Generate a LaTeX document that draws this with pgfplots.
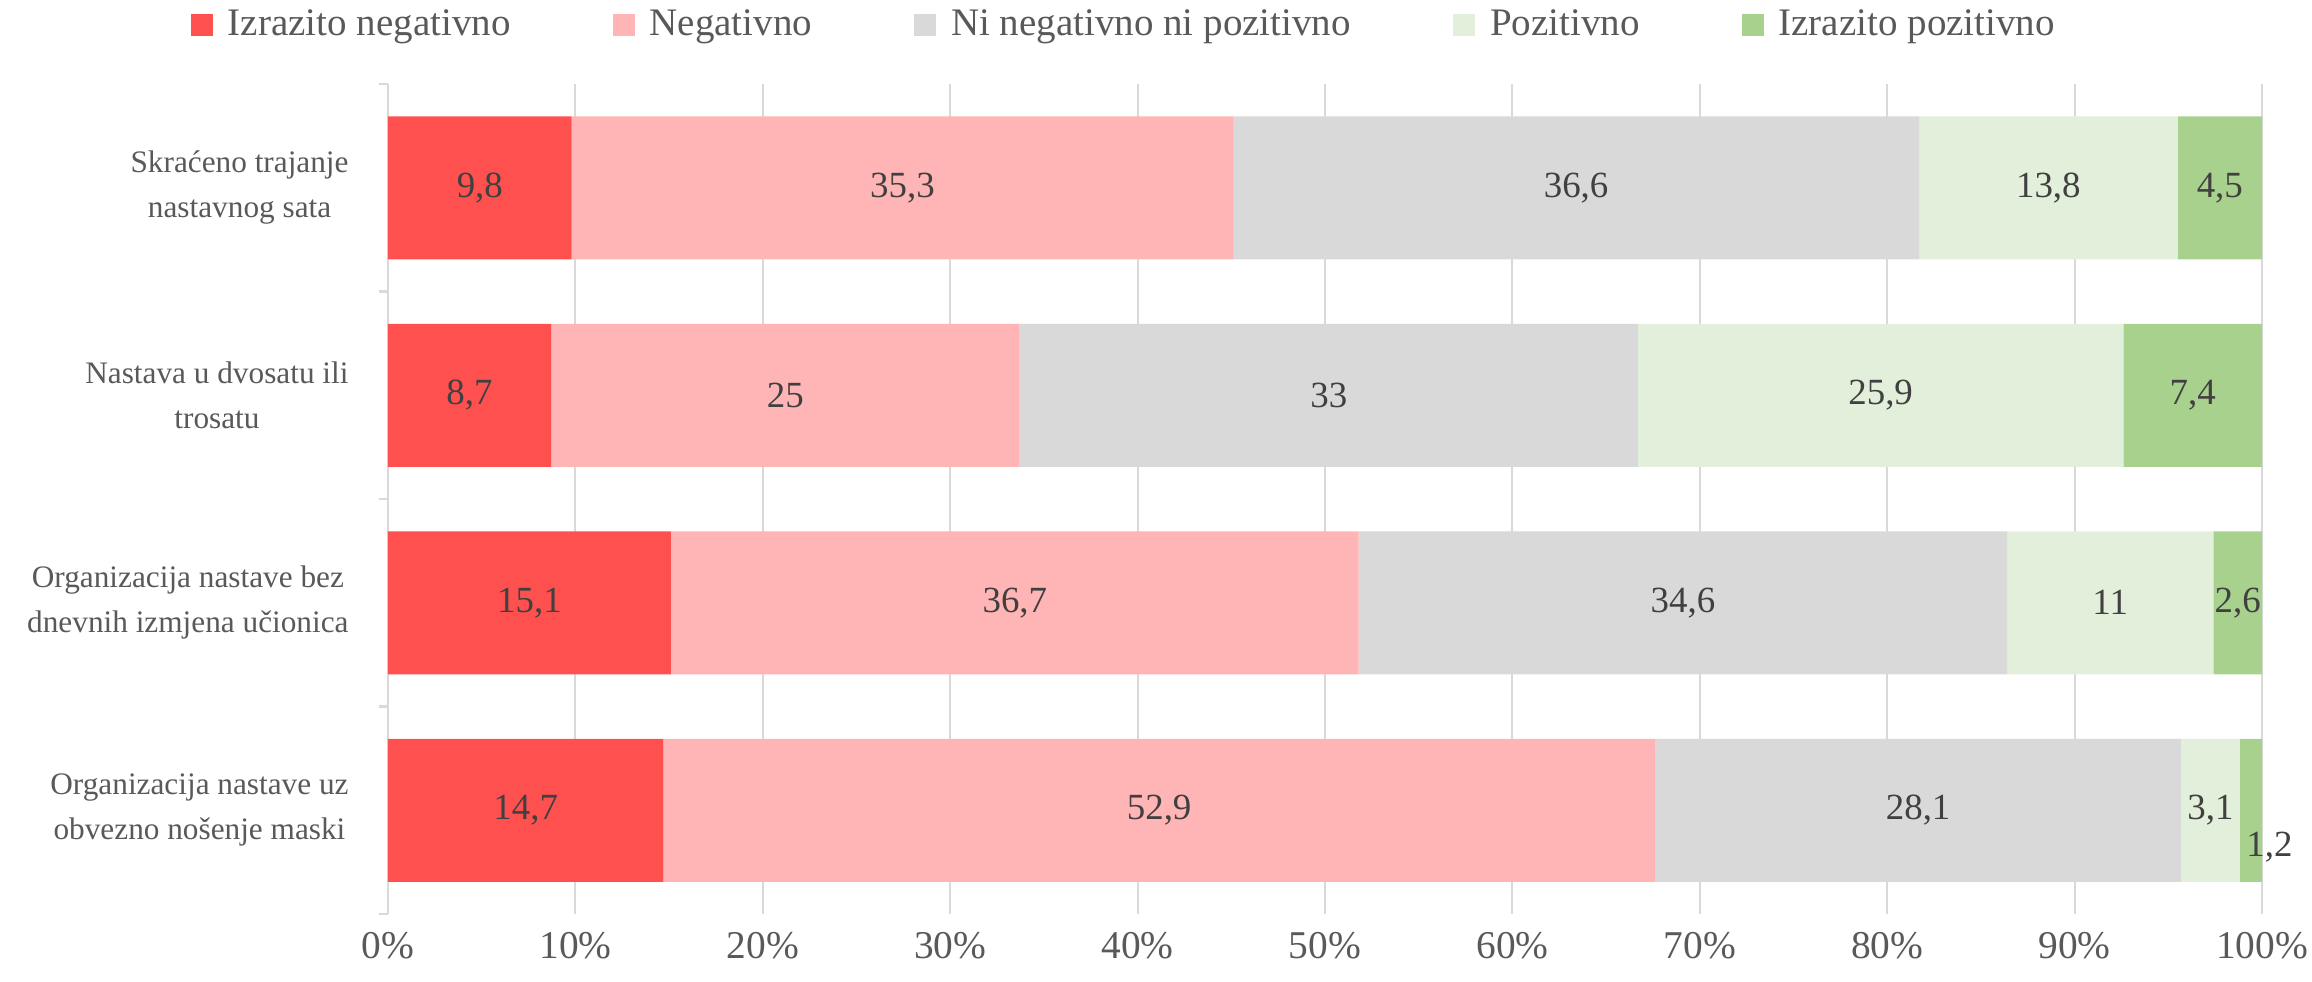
\documentclass[border=0pt]{standalone}
\usepackage{fontspec}
\setmainfont{Liberation Serif}
\usepackage{pgfplots}
\pgfplotsset{compat=1.18}
\definecolor{cNegS}{HTML}{FF5050}
\definecolor{cNeg}{HTML}{FFB5B5}
\definecolor{cMid}{HTML}{D9D9D9}
\definecolor{cPos}{HTML}{E2EFDA}
\definecolor{cPosS}{HTML}{A9D18E}
\definecolor{txt}{HTML}{595959}
\definecolor{lab}{HTML}{404040}

% values per category (0 = top row)
\pgfplotstableread{
y  negs neg  mid  pos  poss
0  9.8  35.3 36.6 13.8 4.5
1  8.7  25   33   25.9 7.4
2  15.1 36.7 34.6 11   2.6
3  14.7 52.9 28.1 3.1  1.2
}\datatable

% label positions (segment centres) and texts
\pgfplotstableread{
x      y     t
4.9    0     9,8
27.45  0     35,3
63.4   0     36,6
88.6   0     13,8
97.75  0     4,5
4.35   1     8,7
21.2   1     25
50.2   1     33
79.65  1     25,9
96.3   1     7,4
7.55   2     15,1
33.45  2     36,7
69.1   2     34,6
91.9   2     11
98.7   2     2,6
7.35   3     14,7
41.15  3     52,9
81.65  3     28,1
97.25  3     3,1
100.4  3.18  1,2
}\labtable

\begin{document}
\begin{tikzpicture}
\pgfplotsset{
  common/.style={
    scale only axis,
    width=18.74cm, height=8.30cm,
    xmin=0, xmax=100,
    ymin=-0.5, ymax=3.5,
    y dir=reverse,
    at={(0,0)}, anchor=south west,
  },
}
\path[use as bounding box] (-3.88cm,-0.67cm) rectangle (19.24cm,9.14cm);
\begin{axis}[
  common,
  xbar stacked,
  bar width=1.43cm,
  axis x line*=bottom,
  x axis line style={draw=none},
  axis y line*=left,
  y axis line style={draw=cMid, line width=0.6pt},
  xmajorgrids=true,
  grid style={draw=cMid, line width=0.6pt},
  xtick={0,10,...,100},
  xticklabel={\pgfmathprintnumber{\tick}\%},
  /pgf/number format/assume math mode=true,
  xticklabel style={anchor=center, yshift=-0.17cm, text=txt,
    font=\fontsize{11.2}{13}\selectfont},
  major x tick style={draw=none},
  ytick={0,1,2,3},
  yticklabels={
    {Skraćeno trajanje\\nastavnog sata},
    {Nastava u dvosatu ili\\trosatu},
    {Organizacija nastave bez\\dnevnih izmjena učionica},
    {Organizacija nastave uz\\obvezno nošenje maski}},
  yticklabel style={align=center, font=\fontsize{8.9}{12.8}\selectfont,
    text=txt, xshift=-0.12cm},
  major y tick style={draw=none},
  minor ytick={-0.5,0.5,1.5,2.5,3.5},
  minor y tick style={draw=cMid, line width=0.6pt},
  minor tick length=0.09cm,
  tick align=outside,
  legend columns=5,
  legend style={at={(0.394,1.0)}, anchor=center, yshift=0.59cm,
    draw=none, fill=none, font=\fontsize{11.1}{13}\selectfont, text=txt,
    /tikz/every odd column/.append style={column sep=0.08cm},
    /tikz/every even column/.append style={column sep=0.95cm}},
  legend image code/.code={\fill[#1] (0cm,-0.11cm) rectangle (0.22cm,0.11cm);},
]
\addplot[fill=cNegS, draw=none] table[x=negs, y=y] {\datatable};
\addlegendentry{Izrazito negativno}
\addplot[fill=cNeg, draw=none] table[x=neg, y=y] {\datatable};
\addlegendentry{Negativno}
\addplot[fill=cMid, draw=none] table[x=mid, y=y] {\datatable};
\addlegendentry{Ni negativno ni pozitivno}
\addplot[fill=cPos, draw=none] table[x=pos, y=y] {\datatable};
\addlegendentry{Pozitivno}
\addplot[fill=cPosS, draw=none] table[x=poss, y=y] {\datatable};
\addlegendentry{Izrazito pozitivno}
\end{axis}

% overlay axis for the value labels
\begin{axis}[
  common,
  axis lines=none,
  clip=false,
]
\addplot[only marks, mark=none, nodes near coords, point meta=explicit symbolic,
  every node near coord/.append style={anchor=center, text=lab,
    font=\fontsize{10.5}{12}\selectfont}]
  table[x=x, y=y, meta=t] {\labtable};
\end{axis}
\end{tikzpicture}
\end{document}
